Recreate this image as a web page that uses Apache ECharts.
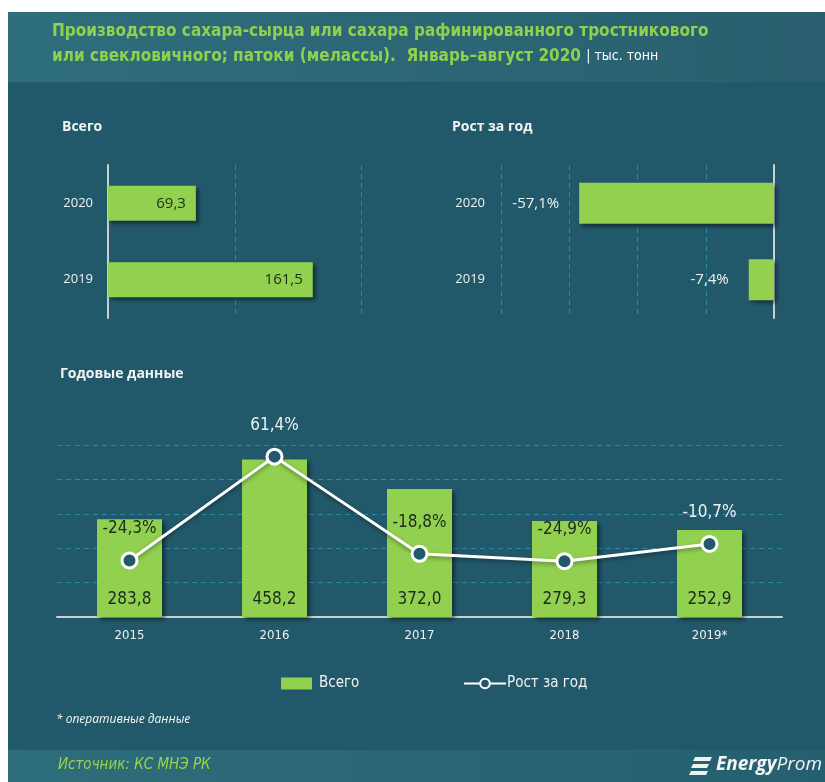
<!DOCTYPE html>
<html>
<head>
<meta charset="utf-8">
<script src="https://cdn.jsdelivr.net/npm/echarts@6/dist/echarts.min.js"></script>
<style>
  html, body { margin: 0; padding: 0; background: #fff; }
  #main { width: 825px; height: 782px; }
</style>
</head>
<body>
<div id="main"></div>
<script>
// данные
var periodYears = ['2019', '2020'];
var periodTotal = [161.5, 69.3];
var periodGrowth = [-7.4, -57.1];

var years = ['2015', '2016', '2017', '2018', '2019*'];
var yearTotal = [283.8, 458.2, 372.0, 279.3, 252.9];
var yearGrowth = [-24.3, 61.4, -18.8, -24.9, -10.7];

var GREEN = '#92d050';
var BG = '#22596a';
var GRIDC = '#2c8aa6';
var AXISC = '#c9cfd2';
var NARROW = '"Liberation Sans Narrow", "DejaVu Sans Condensed", sans-serif';
var SANS = '"Open Sans", "Noto Sans", sans-serif';

function fmt(v) { return v.toFixed(1).replace('.', ','); }

var myChart = echarts.init(document.getElementById('main'));

var barShadow = {
  shadowColor: 'rgba(0,0,0,0.45)',
  shadowBlur: 4,
  shadowOffsetX: 3,
  shadowOffsetY: 3
};

var option = {
  backgroundColor: '#fff',
  animation: false,
  graphic: [
    { type: 'rect', z: -10, shape: { x: 8, y: 82, width: 817, height: 668 }, style: { fill: BG } },
    { type: 'rect', z: -10, shape: { x: 8, y: 12, width: 817, height: 70 },
      style: { fill: new echarts.graphic.LinearGradient(0, 0, 1, 0, [
        { offset: 0, color: '#2f6e7c' }, { offset: 1, color: '#295f6e' }]) } },
    { type: 'rect', z: -10, shape: { x: 8, y: 750, width: 817, height: 32 },
      style: { fill: new echarts.graphic.LinearGradient(0, 0, 1, 0, [
        { offset: 0, color: '#2e6d7b' }, { offset: 1, color: '#24606f' }]) } },
    { type: 'text', left: 52, top: 23,
      style: {
        text: '{g|Производство сахара-сырца или сахара рафинированного тростникового}\n{g|или свекловичного; патоки (мелассы).  Январь–август 2020 }{w|| тыс. тонн}',
        rich: {
          g: { fill: '#8ed14f', font: 'bold 17px ' + NARROW, lineHeight: 25 },
          w: { fill: '#ffffff', font: '14px ' + NARROW, lineHeight: 25 }
        }
      } },
    { type: 'text', left: 62, top: 120, style: { text: 'Всего', fill: '#f2f4f4', font: 'bold 14px ' + SANS } },
    { type: 'text', left: 452, top: 120, style: { text: 'Рост за год', fill: '#f2f4f4', font: 'bold 14px ' + SANS } },
    { type: 'text', left: 60, top: 367, style: { text: 'Годовые данные', fill: '#f2f4f4', font: 'bold 14px ' + SANS } },
    { type: 'text', left: 56, top: 714, style: { text: '* оперативные данные', fill: '#f2f4f4', font: 'italic 12px ' + SANS } },
    { type: 'text', left: 58, top: 758, style: { text: 'Источник: КС МНЭ РК', fill: '#9bd34a', font: 'italic 15px ' + NARROW } },
    { type: 'polygon', shape: { points: [[695, 757], [712, 757], [710, 761], [693, 761]] }, style: { fill: '#f0f0f0' } },
    { type: 'polygon', shape: { points: [[693, 764], [709, 764], [707, 768], [691, 768]] }, style: { fill: '#f0f0f0' } },
    { type: 'polygon', shape: { points: [[691, 771], [708, 771], [706, 775], [689, 775]] }, style: { fill: '#f0f0f0' } },
    { type: 'text', left: 716, top: 755,
      style: {
        text: '{b|Energy}{r|Prom}',
        rich: {
          b: { fill: '#f4f4f4', font: 'italic bold 19px ' + SANS },
          r: { fill: '#f4f4f4', font: 'italic 19px ' + SANS }
        }
      } }
  ],
  legend: [
    { data: ['Всего'], left: 276, top: 671, itemWidth: 31, itemHeight: 12, itemGap: 9,
      icon: 'rect', textStyle: { color: '#f2f4f4', fontSize: 15, fontFamily: NARROW, padding: [0, 0, 0, 2] } },
    { data: ['Рост за год'], left: 458, top: 671, itemWidth: 42, itemHeight: 12,
      textStyle: { color: '#f2f4f4', fontSize: 15, fontFamily: NARROW, padding: [0, 0, 0, -4] } }
  ],
  grid: [
    { left: 108, top: 165, width: 317, height: 153 },
    { left: 501, top: 165, width: 273, height: 153 },
    { left: 57, top: 445, width: 725, height: 172 }
  ],
  xAxis: [
    { gridIndex: 0, type: 'value', min: 0, max: 250, interval: 100,
      axisLine: { show: false }, axisTick: { show: false }, axisLabel: { show: false },
      splitLine: { lineStyle: { color: [GRIDC, GRIDC, GRIDC, 'rgba(0,0,0,0)'], type: [5, 4] } } },
    { gridIndex: 1, type: 'value', min: -80, max: 0, interval: 20,
      axisLine: { show: false }, axisTick: { show: false }, axisLabel: { show: false },
      splitLine: { lineStyle: { color: GRIDC, type: [5, 4] } } },
    { gridIndex: 2, type: 'category', data: years,
      axisLine: { lineStyle: { color: AXISC, width: 2 } }, axisTick: { show: false },
      axisLabel: { color: '#eef2f3', fontSize: 13, fontFamily: NARROW, margin: 12 } }
  ],
  yAxis: [
    { gridIndex: 0, type: 'category', data: periodYears,
      axisLine: { lineStyle: { color: AXISC, width: 2 } }, axisTick: { show: false },
      axisLabel: { color: '#eef2f3', fontSize: 13, fontFamily: SANS, margin: 15 } },
    { gridIndex: 1, type: 'category', data: periodYears, position: 'left',
      axisLine: { show: false, onZero: false }, axisTick: { show: false },
      axisLabel: { color: '#eef2f3', fontSize: 13, fontFamily: SANS, margin: 16 } },
    { gridIndex: 1, type: 'category', data: periodYears, position: 'right',
      axisLine: { lineStyle: { color: AXISC, width: 2 } }, axisTick: { show: false },
      axisLabel: { show: false } },
    { gridIndex: 2, type: 'value', min: 0, max: 500, interval: 100,
      axisLine: { show: false }, axisTick: { show: false }, axisLabel: { show: false },
      splitLine: { lineStyle: { color: GRIDC, type: [5, 4] } } },
    { gridIndex: 2, type: 'value', min: -71, max: 71, show: false, splitLine: { show: false } }
  ],
  series: [
    { type: 'bar', xAxisIndex: 0, yAxisIndex: 0, data: periodTotal, barWidth: 35,
      itemStyle: Object.assign({ color: GREEN }, barShadow),
      label: { show: true, position: 'insideRight', distance: 10, color: '#1d2b1d',
        fontSize: 15, fontFamily: SANS, formatter: function (p) { return fmt(p.value); } } },
    { type: 'bar', xAxisIndex: 1, yAxisIndex: 1, data: periodGrowth, barWidth: 41,
      itemStyle: Object.assign({ color: GREEN }, barShadow),
      label: { show: true, position: 'left', distance: 20, color: '#eef2f3',
        fontSize: 15, fontFamily: SANS, formatter: function (p) { return fmt(p.value) + '%'; } } },
    { name: 'Всего', type: 'bar', xAxisIndex: 2, yAxisIndex: 3, data: yearTotal, barWidth: 65,
      itemStyle: Object.assign({ color: GREEN }, barShadow),
      label: { show: true, position: 'insideBottom', distance: 9, color: '#1d2b1d',
        fontSize: 17, fontFamily: NARROW, formatter: function (p) { return fmt(p.value); } } },
    { name: 'Рост за год', type: 'line', xAxisIndex: 2, yAxisIndex: 4,
      data: yearGrowth.map(function (v) {
        var onBar = v !== 61.4 && v !== -10.7;
        return { value: v, label: { color: onBar ? '#1d2b1d' : '#eef2f3' } };
      }),
      symbol: 'circle', symbolSize: 15,
      lineStyle: { color: '#ffffff', width: 3, shadowColor: 'rgba(0,0,0,0.4)', shadowBlur: 4, shadowOffsetY: 2 },
      itemStyle: { color: BG, borderColor: '#ffffff', borderWidth: 3 },
      label: { show: true, position: 'top', distance: 14, fontSize: 17, fontFamily: NARROW,
        formatter: function (p) { return fmt(p.value) + '%'; } } }
  ]
};

myChart.setOption(option);
</script>
</body>
</html>
